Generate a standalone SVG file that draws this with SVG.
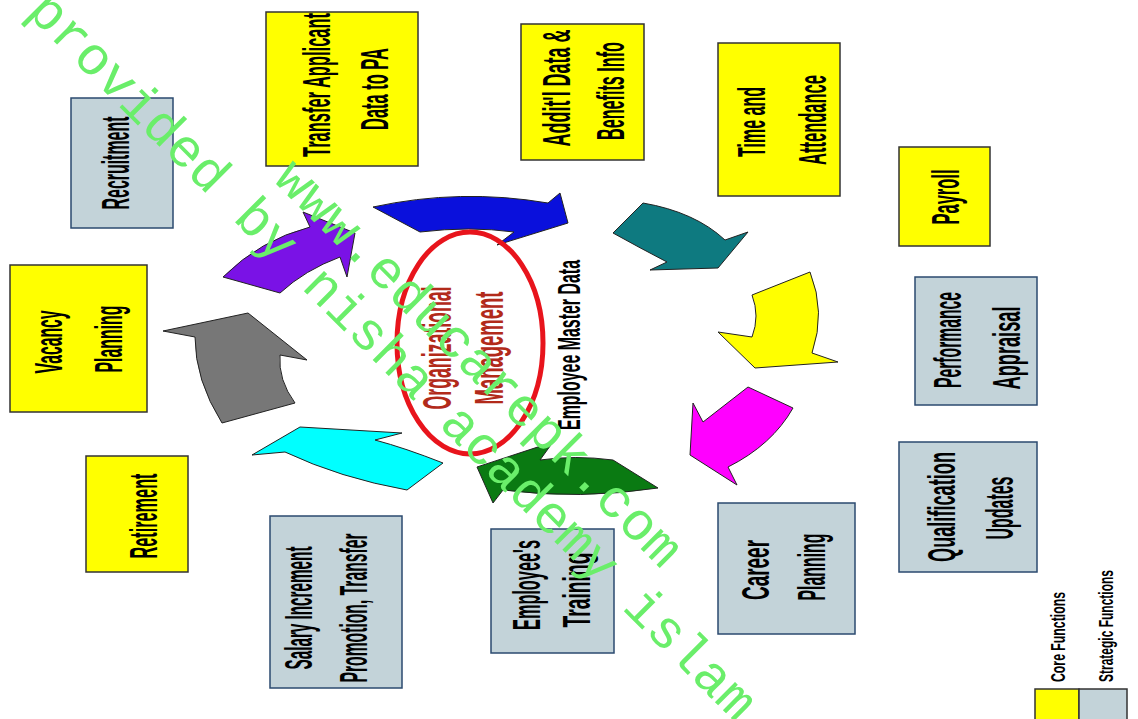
<svg xmlns="http://www.w3.org/2000/svg" width="1138" height="719" viewBox="0 0 1138 719">
<style>
.core{fill:#ffff00;stroke:#333;stroke-width:1.5}
.strat{fill:#c3d3d9;stroke:#2b4a6f;stroke-width:1.5}
.t{font-family:"Liberation Sans",Arial,sans-serif;font-weight:bold;font-size:39px;fill:#000;text-anchor:middle}
.om{fill:#b22a1a;font-size:41px}
.emd{font-size:31px}
.lg{font-size:21px}
.arr{stroke:#222;stroke-width:1;stroke-linejoin:round}
.wm{font-family:"Liberation Mono","Courier New",monospace;font-size:54px;fill:#6aee6a}
</style>
<rect width="1138" height="719" fill="#fff"/>
<g id="connectors">
<path class="arr" fill="#0a10dc" d="M373,207 Q460,188 548,203 L560,193 L568,223 L497,245 L514,232 Q470,226 420,232 Z"/>
<path class="arr" fill="#0e7a80" d="M643,203 Q695,212 725,240 L748,232 L718,268 L650,270 L667,262 Q640,248 613,233 Z"/>
<path class="arr" fill="#ffff00" d="M810,272 L752,295 Q760,316 752,337 L718,332 L755,368 L838,362 L812,353 Q826,312 810,272 Z"/>
<path class="arr" fill="#ff00ff" d="M748,387 L793,408 Q772,445 728,467 L737,485 L690,455 L693,403 L703,422 Z"/>
<path class="arr" fill="#0a7a12" d="M658,488 L613,460 Q575,455 540,460 L553,442 L477,467 L493,503 L503,490 Q580,500 658,488 Z"/>
<path class="arr" fill="#00ffff" d="M443,463 L407,490 Q340,478 285,452 L252,455 L300,427 L402,433 L375,440 Q405,448 443,463 Z"/>
<path class="arr" fill="#777777" d="M248,313 L307,360 L280,355 Q278,380 295,403 L222,423 Q195,380 195,337 L163,331 Z"/>
<path class="arr" fill="#7a12e6" d="M223,277 L280,293 Q305,270 340,257 L347,277 L355,233 L303,212 L310,227 Q260,240 223,277 Z"/>
</g>
<g id="center">
<ellipse cx="470" cy="343" rx="73" ry="111" fill="none" stroke="#e8141c" stroke-width="5"/>
<text class="t om" x="451" y="348" transform="rotate(-90 451 348)" textLength="123" lengthAdjust="spacingAndGlyphs">Organizational</text>
<text class="t om" x="503" y="348" transform="rotate(-90 503 348)" textLength="113" lengthAdjust="spacingAndGlyphs">Management</text>
</g>
<g id="employee-master-data">
<text class="t emd" x="580" y="345" transform="rotate(-90 580 345)" textLength="170" lengthAdjust="spacingAndGlyphs">Employee Master Data</text>
</g>
<g id="recruitment">
<rect class="strat" x="71" y="98" width="102" height="130"/>
<text class="t" x="129" y="163" transform="rotate(-90 129 163)" textLength="93" lengthAdjust="spacingAndGlyphs">Recruitment</text>
</g>
<g id="transfer-applicant">
<rect class="core" x="266" y="12" width="152" height="154"/>
<text class="t" x="330" y="85" transform="rotate(-90 330 85)" textLength="144" lengthAdjust="spacingAndGlyphs">Transfer Applicant</text>
<text class="t" x="388" y="89" transform="rotate(-90 388 89)" textLength="82" lengthAdjust="spacingAndGlyphs">Data to PA</text>
</g>
<g id="additional-data">
<rect class="core" x="521" y="24" width="123" height="136"/>
<text class="t" x="570" y="88" transform="rotate(-90 570 88)" textLength="117" lengthAdjust="spacingAndGlyphs">Addit'l Data &amp;</text>
<text class="t" x="624" y="91" transform="rotate(-90 624 91)" textLength="98" lengthAdjust="spacingAndGlyphs">Benefits Info</text>
</g>
<g id="time-attendance">
<rect class="core" x="718" y="43" width="122" height="153"/>
<text class="t" x="765" y="122" transform="rotate(-90 765 122)" textLength="70" lengthAdjust="spacingAndGlyphs">Time and</text>
<text class="t" x="826" y="120" transform="rotate(-90 826 120)" textLength="90" lengthAdjust="spacingAndGlyphs">Attendance</text>
</g>
<g id="payroll">
<rect class="core" x="899" y="147" width="91" height="99"/>
<text class="t" x="959" y="197" transform="rotate(-90 959 197)" textLength="55" lengthAdjust="spacingAndGlyphs">Payroll</text>
</g>
<g id="performance-appraisal">
<rect class="strat" x="915" y="277" width="122" height="128"/>
<text class="t" x="961" y="340" transform="rotate(-90 961 340)" textLength="96" lengthAdjust="spacingAndGlyphs">Performance</text>
<text class="t" x="1020" y="348" transform="rotate(-90 1020 348)" textLength="83" lengthAdjust="spacingAndGlyphs">Appraisal</text>
</g>
<g id="qualification-updates">
<rect class="strat" x="899" y="442" width="138" height="130"/>
<text class="t" x="955" y="507" transform="rotate(-90 955 507)" textLength="110" lengthAdjust="spacingAndGlyphs">Qualification</text>
<text class="t" x="1013" y="508" transform="rotate(-90 1013 508)" textLength="63" lengthAdjust="spacingAndGlyphs">Updates</text>
</g>
<g id="career-planning">
<rect class="strat" x="718" y="503" width="137" height="131"/>
<text class="t" x="769" y="570" transform="rotate(-90 769 570)" textLength="60" lengthAdjust="spacingAndGlyphs">Career</text>
<text class="t" x="825" y="567" transform="rotate(-90 825 567)" textLength="67" lengthAdjust="spacingAndGlyphs">Planning</text>
</g>
<g id="employee-training">
<rect class="strat" x="491" y="529" width="123" height="124"/>
<text class="t" x="540" y="585" transform="rotate(-90 540 585)" textLength="90" lengthAdjust="spacingAndGlyphs">Employee's</text>
<text class="t" x="590" y="590" transform="rotate(-90 590 590)" textLength="75" lengthAdjust="spacingAndGlyphs">Training</text>
</g>
<g id="salary-promotion">
<rect class="strat" x="270" y="516" width="132" height="172"/>
<text class="t" x="312" y="608" transform="rotate(-90 312 608)" textLength="123" lengthAdjust="spacingAndGlyphs">Salary Increment</text>
<text class="t" x="367" y="608" transform="rotate(-90 367 608)" textLength="149" lengthAdjust="spacingAndGlyphs">Promotion, Transfer</text>
</g>
<g id="retirement">
<rect class="core" x="86" y="456" width="102" height="116"/>
<text class="t" x="157" y="516" transform="rotate(-90 157 516)" textLength="85" lengthAdjust="spacingAndGlyphs">Retirement</text>
</g>
<g id="vacancy-planning">
<rect class="core" x="10" y="265" width="137" height="147"/>
<text class="t" x="62" y="342" transform="rotate(-90 62 342)" textLength="63" lengthAdjust="spacingAndGlyphs">Vacancy</text>
<text class="t" x="122" y="339" transform="rotate(-90 122 339)" textLength="67" lengthAdjust="spacingAndGlyphs">Planning</text>
</g>
<g id="legend">
<rect class="core" x="1035" y="689" width="44" height="40"/>
<rect class="strat" x="1079" y="689" width="48" height="40" style="stroke:#333"/>
<text class="t lg" x="1065" y="637" transform="rotate(-90 1065 637)" textLength="90" lengthAdjust="spacingAndGlyphs">Core Functions</text>
<text class="t lg" x="1113" y="626" transform="rotate(-90 1113 626)" textLength="112" lengthAdjust="spacingAndGlyphs">Strategic Functions</text>
</g>
<g id="watermark" transform="rotate(45)">
<text class="wm" x="27" y="-9">provided by nisha academy islam</text>
<text class="wm" x="320" y="-65">www.educarepk.com</text>
</g>
</svg>
